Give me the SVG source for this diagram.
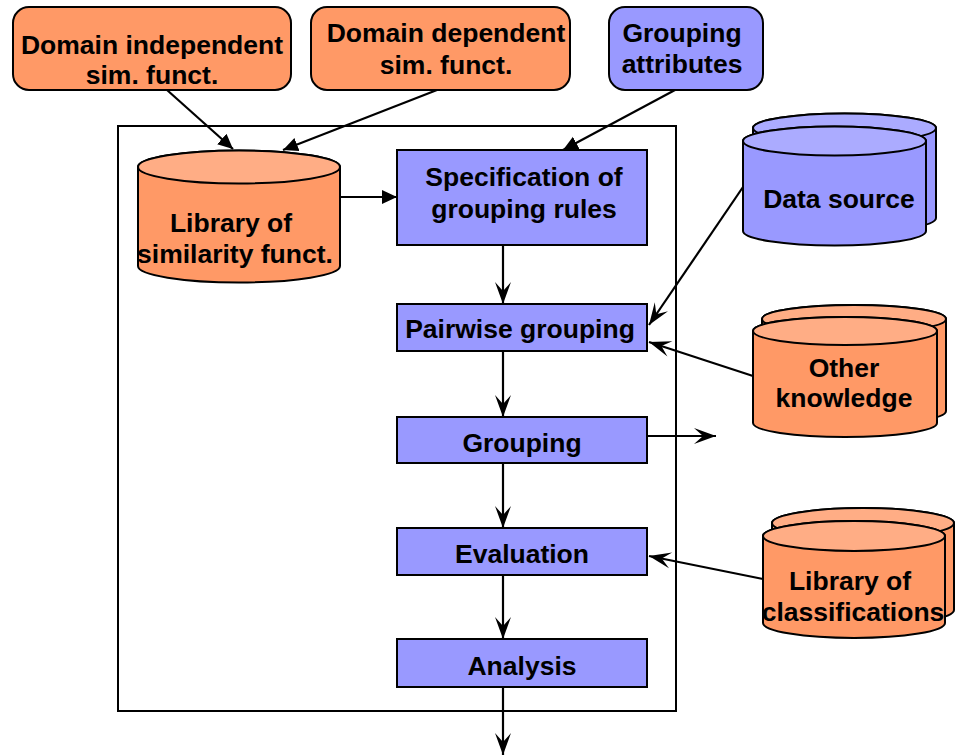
<svg xmlns="http://www.w3.org/2000/svg" width="958" height="755" viewBox="0 0 958 755">
  <style>
    .lbl { font-family: "Liberation Sans", Arial, sans-serif; font-weight: bold; font-size: 26.5px; fill: #000; text-anchor: middle; }
    .orange { fill: #FF9966; stroke: #000; stroke-width: 2; }
    .orangeTop { fill: #FFAD85; stroke: #000; stroke-width: 2; }
    .blue { fill: #9999FF; stroke: #000; stroke-width: 2; }
    .blueTop { fill: #ABABFF; stroke: #000; stroke-width: 2; }
    .conn { stroke: #000; stroke-width: 2.2; fill: none; }
  </style>
  <defs>
    <marker id="tri" markerWidth="16" markerHeight="16" refX="15" refY="8" orient="auto" markerUnits="userSpaceOnUse">
      <path d="M0,1 L15,8 L0,15 z" fill="#000"/>
    </marker>
    <marker id="barb" markerWidth="24" markerHeight="18" refX="23" refY="9" orient="auto" markerUnits="userSpaceOnUse">
      <path d="M23,9 L1,1 L10,9 L1,17 z" fill="#000"/>
    </marker>
  </defs>

  <rect width="958" height="755" fill="#fff"/>

  <!-- enclosing process frame -->
  <rect id="frame" x="118" y="126" width="558" height="585" fill="none" stroke="#000" stroke-width="2"/>

  <!-- connectors -->
  <g id="connectors">
    <line class="conn" x1="167" y1="90" x2="233" y2="149" marker-end="url(#tri)"/>
    <line class="conn" x1="437" y1="90" x2="283" y2="150" marker-end="url(#tri)"/>
    <line class="conn" x1="675" y1="90" x2="563" y2="150" marker-end="url(#tri)"/>
    <line class="conn" x1="340" y1="197" x2="397" y2="197" marker-end="url(#tri)"/>
    <line class="conn" x1="503" y1="245" x2="503" y2="304" marker-end="url(#barb)"/>
    <line class="conn" x1="503" y1="351" x2="503" y2="417" marker-end="url(#barb)"/>
    <line class="conn" x1="503" y1="463" x2="503" y2="528" marker-end="url(#barb)"/>
    <line class="conn" x1="503" y1="575" x2="503" y2="639" marker-end="url(#barb)"/>
    <line class="conn" x1="503" y1="687" x2="503" y2="755" marker-end="url(#barb)"/>
    <line class="conn" x1="647" y1="436" x2="716" y2="436" marker-end="url(#barb)"/>
    <line class="conn" x1="743" y1="187" x2="649" y2="325" marker-end="url(#barb)"/>
    <line class="conn" x1="753" y1="376" x2="649" y2="342" marker-end="url(#barb)"/>
    <line class="conn" x1="763" y1="579" x2="649" y2="556" marker-end="url(#barb)"/>
  </g>

  <!-- input boxes -->
  <g id="domain-independent">
    <rect class="orange" x="13" y="7" width="278" height="83" rx="16"/>
    <text class="lbl" x="152" y="54">Domain independent</text>
    <text class="lbl" x="152" y="84">sim. funct.</text>
  </g>
  <g id="domain-dependent">
    <rect class="orange" x="311" y="7" width="259" height="83" rx="16"/>
    <text class="lbl" x="446" y="42">Domain dependent</text>
    <text class="lbl" x="446" y="74">sim. funct.</text>
  </g>
  <g id="grouping-attributes">
    <rect class="blue" x="609" y="7" width="154" height="83" rx="16"/>
    <text class="lbl" x="682" y="42">Grouping</text>
    <text class="lbl" x="682" y="73">attributes</text>
  </g>

  <!-- library of similarity functions -->
  <g id="similarity-library">
    <path class="orange" d="M138,167 L138,266 A101,16.5 0 0 0 340,266 L340,167 A101,16.5 0 0 0 138,167 Z"/>
    <ellipse class="orangeTop" cx="239" cy="167" rx="101" ry="16.5"/>
    <text class="lbl" x="231" y="232">Library of</text>
    <text class="lbl" x="235" y="263">similarity funct.</text>
  </g>

  <!-- process steps -->
  <g id="specification">
    <rect class="blue" x="397" y="150" width="250" height="95"/>
    <text class="lbl" x="524" y="186">Specification of</text>
    <text class="lbl" x="524" y="218">grouping rules</text>
  </g>
  <g id="pairwise">
    <rect class="blue" x="397" y="304" width="250" height="47"/>
    <text class="lbl" x="520" y="338">Pairwise grouping</text>
  </g>
  <g id="grouping">
    <rect class="blue" x="397" y="417" width="250" height="46"/>
    <text class="lbl" x="522" y="452">Grouping</text>
  </g>
  <g id="evaluation">
    <rect class="blue" x="397" y="528" width="250" height="47"/>
    <text class="lbl" x="522" y="563">Evaluation</text>
  </g>
  <g id="analysis">
    <rect class="blue" x="397" y="639" width="250" height="48"/>
    <text class="lbl" x="522" y="675">Analysis</text>
  </g>

  <!-- data source (stacked cylinders) -->
  <g id="data-source">
    <path class="blue" d="M753,128 L753,218 A91.5,14.5 0 0 0 936,218 L936,128 A91.5,14.5 0 0 0 753,128 Z"/>
    <ellipse class="blueTop" cx="844.5" cy="128" rx="91.5" ry="14.5"/>
    <path class="blue" d="M743,141 L743,231 A91.5,14.5 0 0 0 926,231 L926,141 A91.5,14.5 0 0 0 743,141 Z"/>
    <ellipse class="blueTop" cx="834.5" cy="141" rx="91.5" ry="14.5"/>
    <text class="lbl" x="839" y="208">Data source</text>
  </g>

  <!-- other knowledge -->
  <g id="other-knowledge">
    <path class="orange" d="M762,319 L762,411 A92,14 0 0 0 946,411 L946,319 A92,14 0 0 0 762,319 Z"/>
    <ellipse class="orangeTop" cx="854" cy="319" rx="92" ry="14"/>
    <path class="orange" d="M753,331 L753,423 A92,14 0 0 0 937,423 L937,331 A92,14 0 0 0 753,331 Z"/>
    <ellipse class="orangeTop" cx="845" cy="331" rx="92" ry="14"/>
    <text class="lbl" x="844" y="377">Other</text>
    <text class="lbl" x="844" y="407">knowledge</text>
  </g>

  <!-- library of classifications -->
  <g id="classification-library">
    <path class="orange" d="M772,523 L772,610 A91,15 0 0 0 954,610 L954,523 A91,15 0 0 0 772,523 Z"/>
    <ellipse class="orangeTop" cx="863" cy="523" rx="91" ry="15"/>
    <path class="orange" d="M763,536 L763,623 A91,15 0 0 0 945,623 L945,536 A91,15 0 0 0 763,536 Z"/>
    <ellipse class="orangeTop" cx="854" cy="536" rx="91" ry="15"/>
    <text class="lbl" x="850" y="590">Library of</text>
    <text class="lbl" x="853" y="621">classifications</text>
  </g>
</svg>
